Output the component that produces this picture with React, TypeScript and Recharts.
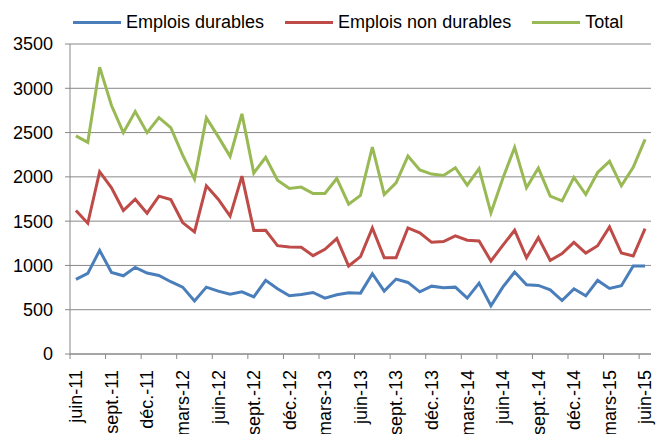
import { LineChart, Line, XAxis, YAxis, CartesianGrid, Legend } from 'recharts'

// Monthly series, juin 2011 -> juin 2015
const months = [
  'juin-11', 'juil.-11', 'août-11', 'sept.-11', 'oct.-11', 'nov.-11', 'déc.-11',
  'janv.-12', 'févr.-12', 'mars-12', 'avr.-12', 'mai-12', 'juin-12', 'juil.-12',
  'août-12', 'sept.-12', 'oct.-12', 'nov.-12', 'déc.-12', 'janv.-13', 'févr.-13',
  'mars-13', 'avr.-13', 'mai-13', 'juin-13', 'juil.-13', 'août-13', 'sept.-13',
  'oct.-13', 'nov.-13', 'déc.-13', 'janv.-14', 'févr.-14', 'mars-14', 'avr.-14',
  'mai-14', 'juin-14', 'juil.-14', 'août-14', 'sept.-14', 'oct.-14', 'nov.-14',
  'déc.-14', 'janv.-15', 'févr.-15', 'mars-15', 'avr.-15', 'mai-15', 'juin-15'
]

const emploisDurables = [
  842, 910, 1170, 921, 883, 978, 914, 887, 816, 755, 600, 755, 710, 676, 702, 645,
  831, 736, 657, 672, 695, 631, 668, 691, 687, 906, 710, 846, 808, 702, 766, 748,
  755, 631, 800, 544, 755, 925, 782, 774, 725, 604, 736, 657, 831, 740, 770, 993, 993
]

const emploisNonDurables = [
  1620, 1476, 2058, 1876, 1620, 1748, 1590, 1782, 1744, 1484, 1378, 1899, 1748, 1556,
  2009, 1395, 1397, 1223, 1208, 1205, 1110, 1182, 1303, 993, 1099, 1423, 1087, 1087,
  1423, 1367, 1261, 1269, 1333, 1284, 1276, 1050, 1227, 1397, 1087, 1314, 1057, 1133,
  1261, 1140, 1223, 1435, 1140, 1106, 1416
]

const total = [
  2462, 2390, 3239, 2805, 2499, 2737, 2499, 2669, 2556, 2246, 1975, 2666, 2454, 2231,
  2711, 2042, 2220, 1963, 1869, 1884, 1812, 1812, 1982, 1691, 1790, 2337, 1801, 1933,
  2235, 2077, 2031, 2016, 2103, 1907, 2092, 1593, 1982, 2333, 1876, 2099, 1782, 1729,
  1994, 1801, 2050, 2175, 1899, 2107, 2424
]

const xTicks = [0, 3, 6, 9, 12, 15, 18, 21, 24, 27, 30, 33, 36, 39, 42, 45, 48]
const yTicks = [0, 500, 1000, 1500, 2000, 2500, 3000, 3500]

const BLUE = '#4A7EBB'
const RED = '#BE4B48'
const GREEN = '#98B954'
const AXIS = '#888888'
const FONT = '"Liberation Sans", Arial, sans-serif'

const WIDTH = 656
const HEIGHT = 434
const PLOT_LEFT = 70
const PLOT_RIGHT = 5
const BAND = (WIDTH - PLOT_LEFT - PLOT_RIGHT) / months.length

const legendItems = [
  { name: 'Emplois durables', color: BLUE },
  { name: 'Emplois non durables', color: RED },
  { name: 'Total', color: GREEN }
]

const data = months.map((m, i) => ({
  idx: i,
  month: m,
  durables: emploisDurables[i],
  nonDurables: emploisNonDurables[i],
  total: total[i]
}))

function MonthTick({ x, y, payload }: any) {
  const ty = y + 16
  return (
    <g>
      <line x1={x - BAND / 2} x2={x - BAND / 2} y1={y} y2={y + 5} stroke={AXIS} />
      <text
        x={x}
        y={ty}
        transform={`rotate(-90, ${x}, ${ty})`}
        textAnchor="end"
        dy="0.35em"
        fontSize={18}
        fontFamily={FONT}
        fill="#000"
      >
        {months[payload.value]}
      </text>
    </g>
  )
}

function LegendContent() {
  return (
    <div style={{ display: 'flex', alignItems: 'center', fontFamily: FONT, fontSize: 18, color: '#000', lineHeight: '21px' }}>
      {legendItems.map((it) => (
        <div key={it.name} style={{ display: 'flex', alignItems: 'center', marginRight: 21 }}>
          <span style={{ display: 'inline-block', width: 48, height: 3, background: it.color, marginRight: 5 }} />
          <span>{it.name}</span>
        </div>
      ))}
    </div>
  )
}

export default function App() {
  return (
    <div style={{ position: 'absolute', left: 0, top: 0, background: '#fff' }}>
      <LineChart
        width={WIDTH}
        height={HEIGHT}
        data={data}
        margin={{ top: 44, right: PLOT_RIGHT, left: 0, bottom: 0 }}
        style={{ fontFamily: FONT }}
      >
        <CartesianGrid vertical={false} stroke={AXIS} strokeWidth={1} />
        <XAxis
          dataKey="idx"
          type="number"
          domain={[-0.5, months.length - 0.5]}
          ticks={xTicks}
          interval={0}
          height={80}
          stroke={AXIS}
          tickLine={false}
          tickSize={0}
          tickMargin={0}
          tick={<MonthTick />}
        />
        <YAxis
          domain={[0, 3500]}
          ticks={yTicks}
          width={PLOT_LEFT}
          stroke={AXIS}
          tickSize={5}
          tickMargin={12}
          tick={{ fill: '#000', fontSize: 18, fontFamily: FONT }}
        />
        <Legend
          verticalAlign="middle"
          layout="horizontal"
          content={<LegendContent />}
          wrapperStyle={{ top: 12, left: 73, width: 'auto', height: 21 }}
        />
        <Line type="linear" dataKey="durables" stroke={BLUE} strokeWidth={3} dot={false} isAnimationActive={false} />
        <Line type="linear" dataKey="nonDurables" stroke={RED} strokeWidth={3} dot={false} isAnimationActive={false} />
        <Line type="linear" dataKey="total" stroke={GREEN} strokeWidth={3} dot={false} isAnimationActive={false} />
      </LineChart>
    </div>
  )
}
